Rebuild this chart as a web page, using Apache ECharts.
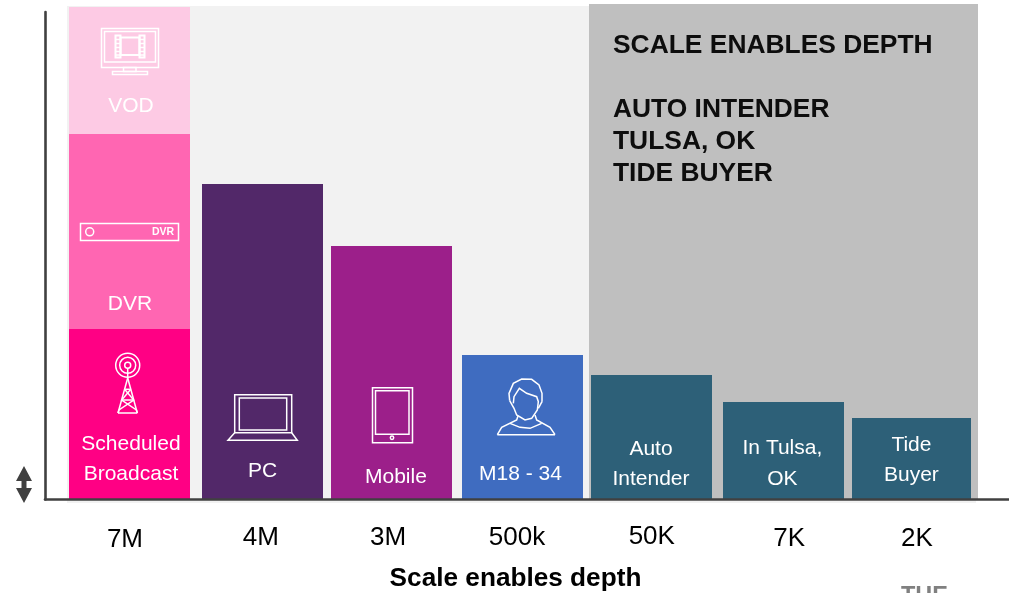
<!DOCTYPE html>
<html><head><meta charset="utf-8">
<style>html,body{margin:0;padding:0;background:#fff}#c{width:1009px;height:593px}</style>
<script src="https://cdn.jsdelivr.net/npm/echarts@6/dist/echarts.min.js"></script>
</head><body><div id="c"></div>
<script>
// Tick labels (audience sizes) and relative bar heights
const categories = ['7M','4M','3M','500k','50K','7K','2K'];
const baseLayer  = [170,315,253,144,124,97,81];
const dvrLayer   = [195,null,null,null,null,null,null];
const vodLayer   = [127,null,null,null,null,null,null];
const baseLabels = ['Scheduled\nBroadcast','PC','Mobile','M18 - 34','Auto\nIntender','In Tulsa,\nOK','Tide\nBuyer'];
const dvrLabels  = ['DVR'];
const vodLabels  = ['VOD'];
const panelLines = ['SCALE ENABLES DEPTH','AUTO INTENDER','TULSA, OK','TIDE BUYER'];
const axisTitle  = 'Scale enables depth';

// layout/style tables (not data)
const barColors = ['#ff0084','#522869','#9c1f8a','#3f6cc0','#2d6078','#2d6078','#2d6078'];
const barNudge  = [-1,1.7,0.3,1,-0.3,1.3,-1];
const barWide   = [121,121,121,121,121,121,119];
const labelDx   = [1.5,0,4.5,-2,-0.5,-1,0];
const labelY    = [459,471.5,477.5,474.5,464,463.5,460];
const tickNudge = [[-5.5,3],[0,1],[-3,1],[-4.5,1],[0,0],[7,2],[4.5,2]];
const INK='#404040', W='#ffffff';
const FONT='"Liberation Sans", Arial, sans-serif';

function rich(){const r={};tickNudge.forEach((n,i)=>{r['t'+i]={fontSize:26,fontFamily:FONT,color:'#000',
  padding:[n[1],n[0]<0?-2*n[0]:0,0,n[0]>0?2*n[0]:0]};});return r;}

function layer(name,values,texts,colorOf,under,textXY){
  return {type:'custom',name,xAxisIndex:0,yAxisIndex:0,clip:false,z:3,
    encode:{x:0,y:2},
    data:values.map((v,i)=>[i,under?(under[i]||0):0,v==null?null:(under?(under[i]||0):0)+v]).filter(d=>d[2]!=null),
    renderItem(p,api){
      const i=api.value(0),c=api.coord([i,api.value(1)]),t=api.coord([i,api.value(2)]);
      const cx=c[0]+barNudge[i],w=barWide[i];
      const kids=[{type:'rect',shape:{x:Math.round(cx-w/2),y:t[1],width:w,height:c[1]-t[1]},style:{fill:colorOf(i)}}];
      const xy=textXY(i,cx);
      if(texts[i]) kids.push({type:'text',z2:5,style:{text:texts[i],x:xy[0],y:xy[1],align:'center',verticalAlign:'middle',
        fill:W,font:'21px '+FONT,lineHeight:30.5}});
      return {type:'group',children:kids};
    }};
}
const under2=baseLayer.map((v,i)=>v+(dvrLayer[i]||0));

// icon + decoration helpers (pure pixel drawing, not data marks)
const S={stroke:W,fill:'none',lineWidth:1.5};
const R=(x,y,w,h,s)=>({type:'rect',z:20,shape:{x,y,width:w,height:h},style:Object.assign({},S,s||{})});
const C=(cx,cy,r,s)=>({type:'circle',z:20,shape:{cx,cy,r},style:Object.assign({},S,s||{})});
const P=(pts,s)=>({type:'polyline',z:20,shape:{points:pts},style:Object.assign({},S,s||{})});
const Pz=(pts)=>P(pts.map(q=>[q[0]/3+340,q[1]/3+340]));
const thick={lineWidth:2};
const icons=[
  // TV
  R(101.5,28.5,57,39),R(104.5,31.5,51,30.5),R(123.5,67.5,12.5,4),R(112.5,71.5,35,3),
  R(115.5,35.5,5,22,thick),R(139.5,35.5,5,22,thick),R(120.5,37.5,19,17.5,thick),
  ...[39.5,43.5,47.5,51.5,55].flatMap(y=>[P([[115.5,y],[120.5,y]]),P([[139.5,y],[144.5,y]])]),
  // DVR
  R(80.5,223.5,98,17),C(89.7,231.8,4),
  {type:'text',z:20,style:{text:'DVR',x:163,y:232.3,align:'center',verticalAlign:'middle',fill:W,font:'bold 10.5px '+FONT}},
  // Tower
  C(127.7,365.3,12),C(127.7,365.3,8),C(127.7,365.3,3),
  P([[127.7,368],[127.7,378]]),
  P([[127.7,378],[118,413]]),P([[127.7,378],[137.3,413]]),P([[118,413],[137.3,413]]),
  P([[124.6,389.3],[130.8,389.3]]),P([[121.7,400],[133.7,400]]),
  P([[124.6,389.3],[133.7,400],[119,410],[118,413]]),P([[130.8,389.3],[121.7,400],[136.4,410],[137.3,413]]),
  // Laptop
  R(234.7,394.7,57,38),R(239.3,398,47.4,32),P([[234.7,432.7],[228,440.3],[297.3,440.3],[291.7,432.7]]),
  // Tablet
  R(372.5,387.7,40,55),R(375.5,390.7,33.5,43.6),C(392,437.7,1.7),
  // Person
  Pz([[509,182],[507,160],[520,130],[545,117],[575,118],[597,135],[606,160],[606,185]]),
  Pz([[509,182],[522,205],[530,225],[555,240],[575,235],[592,210],[595,185],[590,170],[560,160],[538,145],[522,170],[520,190]]),
  Pz([[595,205],[606,185]]),
  Pz([[472,284],[485,262],[530,240],[534,228]]),Pz([[645,284],[630,262],[590,240],[585,225]]),
  Pz([[510,250],[540,262],[570,265],[605,250]]),Pz([[472,284],[645,284]]),
];

const option={
  animation:false,backgroundColor:'#fff',
  grid:[
    {left:65.3,right:31.4,top:4,bottom:94},
    {left:45,right:0,top:12,bottom:93.5}
  ],
  xAxis:[
    {type:'category',gridIndex:0,data:categories,axisLine:{show:false},axisTick:{show:false},
     axisLabel:{interval:0,margin:25,hideOverlap:false,formatter:(v,i)=>`{t${i}|${v}}`,rich:rich()}},
    {type:'value',gridIndex:1,min:0,max:1,z:10,axisLine:{show:true,onZero:false,lineStyle:{color:INK,width:2.6}},
     axisTick:{show:false},axisLabel:{show:false},splitLine:{show:false}}
  ],
  yAxis:[
    {type:'value',gridIndex:0,min:0,max:495,show:false,splitLine:{show:false}},
    {type:'value',gridIndex:1,min:0,max:1,z:10,axisLine:{show:true,onZero:false,lineStyle:{color:INK,width:2.6}},
     axisTick:{show:false},axisLabel:{show:false},splitLine:{show:false}}
  ],
  series:[
    layer('Base',baseLayer,baseLabels,i=>barColors[i],null,(i,cx)=>[cx+labelDx[i],labelY[i]]),
    layer('DVR',dvrLayer,dvrLabels,()=>'#ff66b2',baseLayer,()=>[130,304]),
    layer('VOD',vodLayer,vodLabels,()=>'#fdcae4',under2,()=>[131,106.5])
  ],
  graphic:{elements:[
    {type:'rect',z:-2,silent:true,shape:{x:67,y:6,width:909,height:497},style:{fill:'#f2f2f2'}},
    {type:'rect',z:-1,silent:true,shape:{x:589,y:4,width:389,height:495},style:{fill:'#bfbfbf'}},
    ...panelLines.map((t,i)=>({type:'text',z:20,style:{text:t,x:613,y:[45.5,109.5,141.5,173.5][i],verticalAlign:'middle',fill:'#0d0d0d',font:'bold 26.4px '+FONT}})),
    {type:'text',z:20,style:{text:axisTitle,x:515.5,y:579,align:'center',verticalAlign:'middle',fill:'#000',font:'bold 26.2px '+FONT}},
    {type:'text',z:20,style:{text:'THE',x:924.5,y:584.5,align:'center',verticalAlign:'top',fill:'#808080',font:'bold 23.5px '+FONT}},
    {type:'polygon',z:20,shape:{points:[[24,466],[32,481],[26.5,481],[26.5,488],[32,488],[24,503],[16,488],[21.5,488],[21.5,481],[16,481]]},style:{fill:INK}},
    ...icons
  ]}
};
echarts.init(document.getElementById('c'),null,{renderer:'canvas'}).setOption(option);
</script></body></html>
